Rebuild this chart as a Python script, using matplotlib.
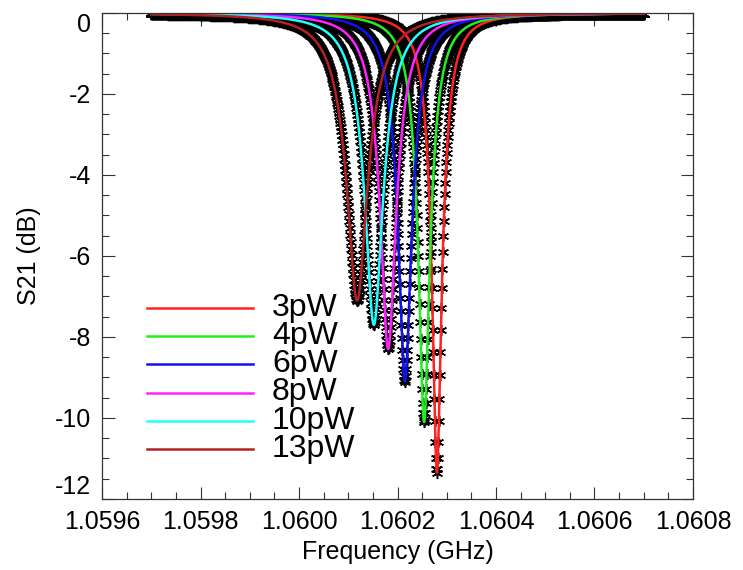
import numpy as np
import matplotlib
matplotlib.use('Agg')
import matplotlib.pyplot as plt

plt.rcParams['font.family'] = ['Liberation Sans', 'DejaVu Sans']
plt.rcParams['axes.unicode_minus'] = False

# resonance fit parameters for each readout power
labels = ['3pW', '4pW', '6pW', '8pW', '10pW', '13pW']
colors = ['#ff2222', '#22ee22', '#1111ee', '#ff22ff', '#22ffff', '#b22222']
f0 = [1.060280, 1.060254, 1.060215, 1.060181, 1.060152, 1.060118]   # GHz
depth = [-11.35, -10.1, -9.1, -8.3, -7.7, -7.1]                      # dB at f0
Q = [22000, 20000, 18000, 16200, 14700, 13300]

f_start, f_stop, npts = 1.0597, 1.0607, 1001


def s21_db(f, fr, dmin, q):
    # notch resonator: S21 = 1 - a / (1 + 2jQ x)
    a = 1.0 - 10 ** (dmin / 20.0)
    u = 2 * q * (f - fr) / fr
    s = 1 - a / (1 + 1j * u)
    return 20 * np.log10(np.abs(s))


freq = np.linspace(f_start, f_stop, npts)

fig = plt.figure(figsize=(7.43, 5.70), dpi=100)
ax = fig.add_axes([0.1373, 0.1246, 0.7954, 0.8526])

for fr, d, q in zip(f0, depth, Q):
    ax.plot(freq, s21_db(freq, fr, d, q), linestyle='none', marker=(6, 2, 0),
            ms=8, mew=1.1, color='black')

ffine = np.linspace(f_start, f_stop, 4001)
for fr, d, q, c in zip(f0, depth, Q, colors):
    ax.plot(ffine, s21_db(ffine, fr, d, q), color=c, lw=1.8)

xt = np.arange(1.0596, 1.06081, 0.0002)
ax.set_xlim(1.0596, 1.0608)
ax.set_ylim(-12, 0)
ax.set_xticks(xt)
ax.set_xticklabels(['%.4f' % v for v in xt])
ax.set_xticks(np.arange(1.0596, 1.06081, 0.00005), minor=True)
ax.set_yticks(np.arange(-12, 0.1, 2))
ax.set_yticks(np.arange(-12, 0.1, 0.5), minor=True)
ax.tick_params(which='both', direction='in', top=True, right=True,
               labelsize=18, width=0.8, color='#333333')
ax.tick_params(which='major', length=9, pad=8)
ax.tick_params(which='minor', length=5)
for sp in ax.spines.values():
    sp.set_linewidth(0.9)
    sp.set_color('#333333')

# end labels sit inside the axis range
ylabs = ax.get_yticklabels()
ylabs[0].set_va('bottom')
ylabs[-1].set_va('top')

ax.set_xlabel('Frequency (GHz)', fontsize=18, labelpad=4)
ax.set_ylabel('S21 (dB)', fontsize=18, labelpad=10)

# legend drawn by hand, IDL style
y0, dy = 0.393, 0.058
for i, (lab, c) in enumerate(zip(labels, colors)):
    y = y0 - i * dy
    ax.plot([0.0761, 0.2555], [y, y], color=c, lw=1.8, transform=ax.transAxes)
    ax.text(0.2876, y - 0.016, lab, fontsize=23, transform=ax.transAxes,
            va='baseline', ha='left')

fig.savefig('out.png', dpi=100)
